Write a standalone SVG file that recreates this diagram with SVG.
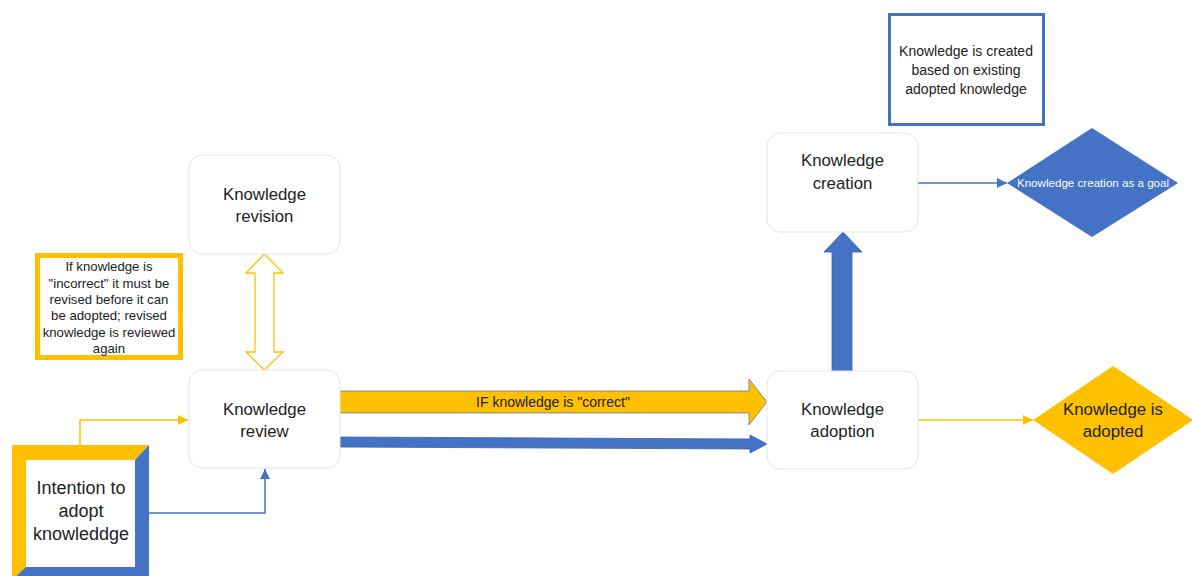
<svg xmlns="http://www.w3.org/2000/svg" width="1192" height="576" viewBox="0 0 1192 576">
<defs>
<style>
.node{fill:#ffffff;stroke:#e4e4e4;stroke-width:1}
.t{font-family:"Liberation Sans",Arial,sans-serif;font-size:16.8px;fill:#222;text-anchor:middle}
.ti{font-family:"Liberation Sans",Arial,sans-serif;font-size:18px;fill:#222;text-anchor:middle}
.s{font-family:"Liberation Sans",Arial,sans-serif;font-size:13.2px;fill:#222;text-anchor:middle}
.n{font-family:"Liberation Sans",Arial,sans-serif;font-size:14px;fill:#222;text-anchor:middle}
.w{font-family:"Liberation Sans",Arial,sans-serif;font-size:11.6px;fill:#fff;text-anchor:middle}
.ly{fill:none;stroke:#ffc000;stroke-width:1.5}
.lb{fill:none;stroke:#4472c4;stroke-width:1.5}
</style>
<marker id="ay" viewBox="0 0 10 10" refX="10" refY="5" markerWidth="10" markerHeight="10" markerUnits="userSpaceOnUse" orient="auto"><path d="M0,0 L10,5 L0,10 z" fill="#ffc000"/></marker>
<marker id="ab" viewBox="0 0 10 10" refX="10" refY="5" markerWidth="10" markerHeight="10" markerUnits="userSpaceOnUse" orient="auto"><path d="M0,0 L10,5 L0,10 z" fill="#4472c4"/></marker>
</defs>
<rect width="1192" height="576" fill="#ffffff"/>

<g id="connectors">
<polyline class="ly" points="80,445 80,420 188,420" marker-end="url(#ay)"/>
<polyline class="lb" points="149,513 265,513 265,469" marker-end="url(#ab)"/>
<path d="M264.5,254 L283,273 L274,273 L274,352 L283,352 L264.5,370 L246,352 L255,352 L255,273 L246,273 Z" fill="#ffffff" stroke="#ffc000" stroke-width="1.3"/>
<path d="M337,391 L749,391 L749,379 L767,402 L749,425 L749,413 L337,413 Z" fill="#ffc000" stroke="#5b77b0" stroke-width="0.8"/>
<text class="n" x="553" y="407">IF knowledge is "correct"</text>
<path d="M340,437 L750,439 L750,435 L767,444 L750,453 L750,449 L340,447 Z" fill="#4472c4" stroke="#3a63ad" stroke-width="0.8"/>
<path d="M832,371 L832,252 L824,252 L843,232 L862,252 L852,252 L852,371 Z" fill="#4472c4" stroke="#3a63ad" stroke-width="0.8"/>
<line class="lb" x1="918" y1="183" x2="1007" y2="183" marker-end="url(#ab)"/>
<line class="ly" x1="918" y1="420" x2="1033" y2="420" marker-end="url(#ay)"/>
</g>

<g id="intention">
<polygon points="12,445 149,445 135,460 26,460 26,567 12,580" fill="#ffc000"/>
<polygon points="149,445 149,580 12,580 26,567 135,567 135,460" fill="#4472c4"/>
<rect x="26" y="460" width="109" height="107" fill="#ffffff"/>
<text class="ti" x="81" y="494">Intention to</text>
<text class="ti" x="81" y="517">adopt</text>
<text class="ti" x="81" y="540">knowleddge</text>
</g>

<g id="revision">
<rect class="node" x="189" y="155" width="151" height="99" rx="13"/>
<text class="t" x="264.5" y="200">Knowledge</text>
<text class="t" x="264.5" y="222">revision</text>
</g>

<g id="review">
<rect class="node" x="189" y="370" width="151" height="98" rx="13"/>
<text class="t" x="264.5" y="415">Knowledge</text>
<text class="t" x="264.5" y="437">review</text>
</g>

<g id="note-incorrect">
<rect x="37.5" y="255.5" width="143" height="102" fill="#ffffff" stroke="#ffc000" stroke-width="5"/>
<text class="s" x="109" y="271">If knowledge is</text>
<text class="s" x="109" y="288">"incorrect" it must be</text>
<text class="s" x="109" y="304">revised before it can</text>
<text class="s" x="109" y="320">be adopted; revised</text>
<text class="s" x="109" y="337">knowledge is reviewed</text>
<text class="s" x="109" y="353">again</text>
</g>

<g id="adoption">
<rect class="node" x="767" y="371" width="151" height="98" rx="13"/>
<text class="t" x="842.5" y="415">Knowledge</text>
<text class="t" x="842.5" y="437">adoption</text>
</g>

<g id="creation">
<rect class="node" x="767" y="133" width="151" height="99" rx="13"/>
<text class="t" x="842.5" y="166">Knowledge</text>
<text class="t" x="842.5" y="189">creation</text>
</g>

<g id="note-created">
<rect x="889.5" y="14.5" width="154" height="110" fill="#ffffff" stroke="#4472c4" stroke-width="3"/>
<text class="n" x="966" y="56">Knowledge is created</text>
<text class="n" x="966" y="75">based on existing</text>
<text class="n" x="966" y="94">adopted knowledge</text>
</g>

<g id="goal-creation">
<polygon points="1007,183 1092,128 1178,183 1092,237" fill="#4472c4"/>
<text class="w" x="1093" y="187">Knowledge creation as a goal</text>
</g>

<g id="goal-adopted">
<polygon points="1033,420 1113,366 1193,420 1113,474" fill="#ffc000"/>
<text class="t" x="1113" y="415">Knowledge is</text>
<text class="t" x="1113" y="437">adopted</text>
</g>
</svg>
